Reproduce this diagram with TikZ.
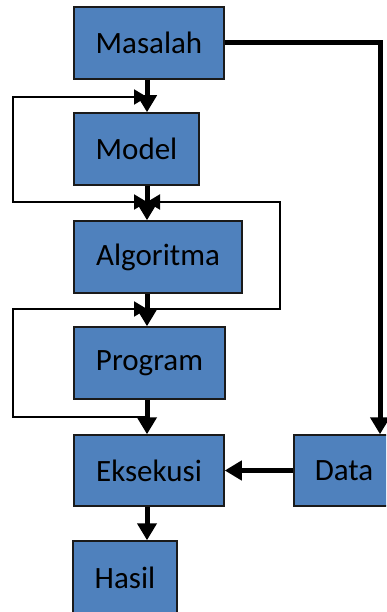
\documentclass[tikz,border=0pt]{standalone}
\usepackage{fontspec}
\setmainfont{Carlito}
\usetikzlibrary{arrows.meta}
\definecolor{boxblue}{HTML}{4F81BD}
\definecolor{boxline}{HTML}{1A1A1A}
\begin{document}
\begin{tikzpicture}[x=1pt,y=-1pt,
  box/.style={draw=boxline,line width=1.5pt,fill=boxblue,inner sep=0pt,
    minimum height=72pt,font=\fontsize{31}{36}\selectfont,text=black},
  flow/.style={line width=5pt,-{Triangle[width=19pt,length=17pt]}},
  loop/.style={line width=2pt,-{Triangle[width=15pt,length=13pt]}},
  loopboth/.style={line width=2pt,{Triangle[width=15pt,length=13pt]}-{Triangle[width=15pt,length=13pt]}}]
\useasboundingbox (0,0) rectangle (386,612);
\begin{scope}
\clip (0,0) rectangle (386,612);
\node[box,minimum width=150pt] (masalah) at (149,43) {Masalah};
\node[box,minimum width=125pt] (model) at (136.5,149) {Model};
\node[box,minimum width=168pt] (algo) at (158,257) {Algoritma};
\node[box,minimum width=151pt] (program) at (149.5,363) {Program};
\node[box,minimum width=150pt,minimum height=71pt] (eks) at (149,470.5) {Eksekusi};
\node[box,minimum width=100pt,minimum height=71pt] (data) at (344,470.5) {Data};
\node[box,minimum width=104pt,minimum height=74pt] (hasil) at (125,578) {Hasil};
\end{scope}
\coordinate (mx) at (147,0);
\coordinate (dx) at (380,0);
\coordinate (a1) at (147,97);
\coordinate (a2) at (147,202);
\coordinate (b1) at (147,309);
\coordinate (c1) at (147,417);
% main flow
\draw[flow] (masalah.south -| mx) -- (model.north -| mx);
\draw[flow] (model.south -| mx) -- (algo.north -| mx);
\draw[flow] (algo.south -| mx) -- (program.north -| mx);
\draw[flow] (program.south -| mx) -- (eks.north -| mx);
\draw[flow] (eks.south -| mx) -- (hasil.north -| mx);
% feedback loops
\draw[loopboth] (a2) -- (13,202) -- (13,97) -- (a1);
\draw[loop] (b1) -- (280,309) -- (280,202) -- (a2);
\draw[loop] (c1) -- (13,417) -- (13,309) -- (b1);
% data path
\draw[line width=5pt,-{Triangle[width=19pt,length=17pt]}] (masalah.east) -- (masalah.east -| dx) -- (data.north -| dx);
\draw[flow] (data.west) -- (eks.east);
\end{tikzpicture}
\end{document}
